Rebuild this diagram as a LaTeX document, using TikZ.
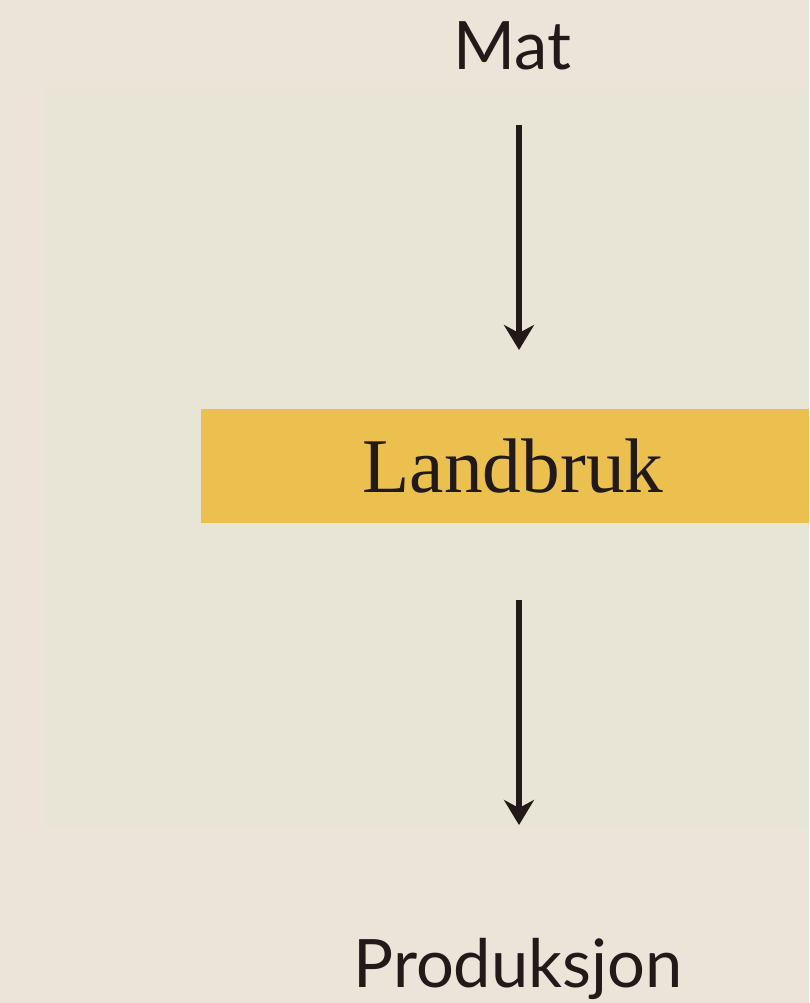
\documentclass[tikz,border=0pt]{standalone}
\usepackage{fontspec}
\setmainfont{Liberation Serif}
\setsansfont{Lato}
\usetikzlibrary{arrows.meta}

\definecolor{paper}{HTML}{ECE4D8}
\definecolor{panel}{HTML}{E8E5D7}
\definecolor{band}{HTML}{EBC04F}
\definecolor{ink}{HTML}{221A18}

\tikzset{
  label/.style={font=\sffamily\fontsize{19}{22}\selectfont, text=ink, inner sep=0pt, anchor=base},
  flow/.style={draw=ink, line width=0.06cm, -{Stealth[length=0.25cm, width=0.3cm, inset=0.08cm]}},
}

\begin{document}
\begin{tikzpicture}[x=0.01cm, y=-0.01cm]

\def\xl{0};
\def\xr{809};
\def\yt{0};
\def\yb{1003};

\def\xarr{519};

\useasboundingbox (\xl, \yt) rectangle (\xr, \yb);
\fill[paper] (\xl, \yt) rectangle (\xr, \yb);
\fill[panel] (43, 88) rectangle (\xr, 829);
\fill[band] (201, 409) rectangle (\xr, 523); % landbruk band

\node[label] (mat) at (512, 70) {Mat};
\node[font=\fontsize{22}{24}\selectfont, text=ink, inner sep=0pt, anchor=base] (landbruk) at (513, 492) {Landbruk};
\node[label] (produksjon) at (518, 987) {Produksjon};

\coordinate (a1) at (\xarr, 125);
\coordinate (a2) at (\xarr, 350);
\coordinate (b1) at (\xarr, 600);
\coordinate (b2) at (\xarr, 825);

\draw[flow] (a1) -- (a2);
\draw[flow] (b1) -- (b2);

\end{tikzpicture}
\end{document}
